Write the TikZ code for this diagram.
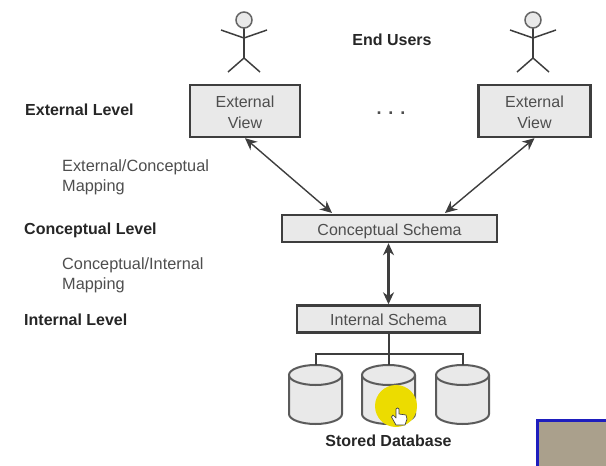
\documentclass[tikz,border=0pt]{standalone}
\usepackage{fontspec}
\setmainfont{Liberation Sans}
\usepackage{color, xcolor}
\usetikzlibrary{positioning,arrows.meta}
\definecolor{mybox}{RGB}{233,233,233}
\definecolor{myline}{RGB}{62,62,62}
\definecolor{mytext}{RGB}{78,78,78}
\definecolor{myyellow}{RGB}{236,220,0}
\definecolor{mytan}{RGB}{170,160,140}
\definecolor{myblue}{RGB}{30,30,190}
\newcommand{\stickman}[2]{%
  \draw[figline] (#1,28) -- (#1,58);
  \draw[figline] (#1-23,30) -- (#1,38) -- (#1+23,30);
  \draw[figline] (#1-16,72) -- (#1,58) -- (#1+16,72);
  \node[headnode] (#2) at (#1,20) {};
}
\newcommand{\lowered}[1]{\raisebox{-2.5pt}[0.7em][0.2em]{#1}}
\begin{document}
\begin{tikzpicture}[
          x=1pt,y=-1pt,
          viewbox/.style={draw=myline,line width=2.4pt,fill=mybox,text=mytext,align=center,font=\fontsize{16}{21}\selectfont,inner sep=0pt},
          boldlabel/.style={anchor=west,text=black!85,font=\fontsize{16}{17}\selectfont\bfseries,inner sep=0pt},
          maplabel/.style={anchor=north west,text=mytext,align=left,font=\fontsize{16.3}{20}\selectfont,inner sep=0pt},
          dbbody/.style={draw=myline!85,line width=2pt,fill=mybox},
          figline/.style={draw=myline,line width=1.5pt},
          headnode/.style={circle,draw=myline!80,line width=1.5pt,fill=mybox,minimum size=16pt,inner sep=0pt},
          maparrow/.style={draw=myline,line width=1.4pt,{Stealth[length=12pt,width=11pt]}-{Stealth[length=12pt,width=11pt]}}
          ]
          \useasboundingbox (0,0) rectangle (606,466);
          % the users
          \stickman{244}{head1}
          \stickman{533}{head2}
          \node[boldlabel,anchor=center] (users) at (392,40) {End Users};

          % the views
          \node[viewbox,minimum width=110pt,minimum height=52pt] (view1) at (245,111) {\lowered{External}\\\lowered{View}};
          \node[viewbox,minimum width=112pt,minimum height=52pt] (view2) at (534.5,111) {\lowered{External}\\\lowered{View}};
          \node[text=mytext,inner sep=0pt,font=\fontsize{18}{18}\selectfont\bfseries] (dots) at (391,113) {.\hspace{7pt}.\hspace{7pt}.};

          % the schemas
          \node[viewbox,minimum width=215pt,minimum height=27pt] (cs) at (389.5,228.5) {\lowered{Conceptual Schema}};
          \node[viewbox,minimum width=183pt,minimum height=27pt] (is) at (388.5,319) {\lowered{Internal Schema}};

          % the level names
          \foreach \i/\xcoord/\ycoord/\name in {1/25/110/External Level,2/24/230/Conceptual Level,3/24/320/Internal Level}
            \node[boldlabel] (level\i) at (\xcoord,\ycoord) {\name};
          \node[maplabel] (map1) at (62,159.5) {External/Conceptual\\Mapping};
          \node[maplabel] (map2) at (62,257) {Conceptual/Internal\\Mapping};

          % the disks
          \foreach \i/\xcoord in {1/315.5,2/388.5,3/462.5} {
            \coordinate (db\i) at (\xcoord,365);
            \draw[dbbody] (\xcoord-26.5,375) -- (\xcoord-26.5,414) arc[start angle=180,end angle=0,x radius=26.5,y radius=10] -- (\xcoord+26.5,375);
            \draw[dbbody] (\xcoord,375) ellipse[x radius=26.5,y radius=10];
          }
          \node[boldlabel,anchor=center] (stored) at (388.5,441) {Stored Database};

          % the edges
          \coordinate (cs1) at (332,213);
          \coordinate (cs2) at (445,213);
          \draw[maparrow] (view1.south) -- (cs1);
          \draw[maparrow] (view2.south) -- (cs2);
          \draw[maparrow,line width=2.2pt] (cs.south -| is.south) -- (is.north);

          % the bus
          \coordinate (bus) at (388.5,354);
          \draw[figline,line width=2pt] (is.south) -- (db2);
          \draw[figline,line width=2pt] (db1) |- (bus) -| (db3);

          % the pointer
          \fill[myyellow] (396,406) circle (21pt);
          \draw[myline,line width=.7pt,fill=white,line join=round] (396,409) -- (396,418) -- (393,415) -- (391.5,417) -- (396,425) -- (405,425) -- (407,419) -- (406,415) -- (399,414) -- (399,409) .. controls (398.5,407.5) and (396.5,407.5) .. (396,409) -- cycle;

          % the inset corner
          \fill[mytan] (537,420) rectangle (606,466);
          \draw[myblue,line width=3pt] (537,466) -- (537,420) -- (606,420);
\end{tikzpicture}
\end{document}
